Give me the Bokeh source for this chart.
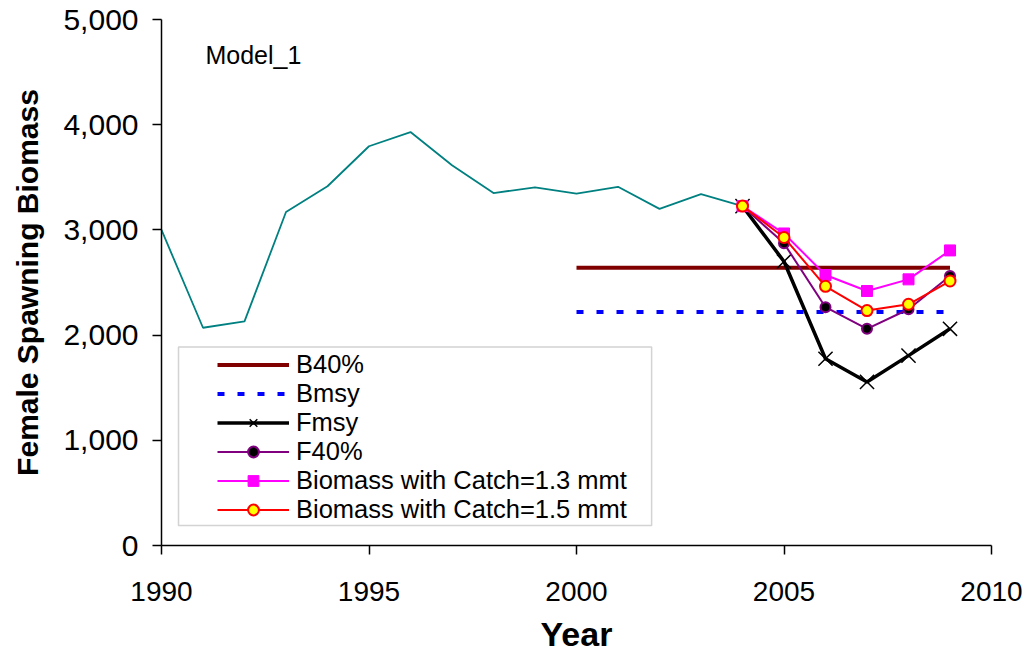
from bokeh.plotting import figure
from bokeh.models import (Range1d, FixedTicker, NumeralTickFormatter, Label,
                          BoxAnnotation)
from bokeh.embed import file_html
from bokeh.resources import INLINE

# ---- data -------------------------------------------------------------
hist_years = [1990, 1991, 1992, 1993, 1994, 1995, 1996, 1997, 1998, 1999,
              2000, 2001, 2002, 2003, 2004]
hist_biomass = [3000, 2070, 2130, 3170, 3415, 3795, 3930, 3615, 3350, 3405,
                3345, 3410, 3200, 3340, 3226]

ref_years = [2000, 2009]
b40 = [2640, 2640]
bmsy = [2220, 2220]

proj_years = [2004, 2005, 2006, 2007, 2008, 2009]
fmsy = [3226, 2700, 1775, 1555, 1805, 2060]
f40 = [3226, 2872, 2265, 2060, 2246, 2562]
catch13 = [3226, 2966, 2571, 2419, 2530, 2805]
catch15 = [3226, 2928, 2464, 2233, 2293, 2514]

x_ticks = [1990, 1995, 2000, 2005, 2010]
y_ticks = [0, 1000, 2000, 3000, 4000, 5000]

FONT = "Liberation Sans"

p = figure(width=1032, height=655, output_backend="svg", toolbar_location=None,
           x_range=Range1d(1990, 2010), y_range=Range1d(0, 5000),
           min_border_left=161, min_border_right=41, min_border_top=19,
           min_border_bottom=109)
p.outline_line_color = None
p.xgrid.visible = False
p.ygrid.visible = False

# historical
p.line(hist_years, hist_biomass, line_color="#008080", line_width=1.8)

# reference lines
p.line(ref_years, b40, line_color="#800000", line_width=4, legend_label="B40%")
p.line(ref_years, bmsy, line_color="#0000FF", line_width=4, line_dash="7 13",
       legend_label="Bmsy")

# projections
p.line(proj_years, fmsy, line_color="black", line_width=3.5, legend_label="Fmsy")
p.scatter(proj_years, fmsy, marker="x", size=20, line_color="black",
          line_width=1.5, legend_label="Fmsy")

p.line(proj_years, f40, line_color="#800080", line_width=2, legend_label="F40%")
p.scatter(proj_years, f40, marker="circle", size=10, fill_color="black",
          line_color="#800080", line_width=2, legend_label="F40%")

p.line(proj_years, catch13, line_color="#FF00FF", line_width=2,
       legend_label="Biomass with Catch=1.3 mmt")
p.scatter(proj_years, catch13, marker="square", size=11, fill_color="#FF00FF",
          line_color="#FF00FF", legend_label="Biomass with Catch=1.3 mmt")

p.line(proj_years, catch15, line_color="#FF0000", line_width=2,
       legend_label="Biomass with Catch=1.5 mmt")
p.scatter(proj_years, catch15, marker="circle", size=11, fill_color="#FFFF00",
          line_color="#FF0000", line_width=2,
          legend_label="Biomass with Catch=1.5 mmt")

# axes
for ax in (p.xaxis[0], p.yaxis[0]):
    ax.axis_line_color = "black"
    ax.axis_line_width = 1.5
    ax.major_tick_line_color = "black"
    ax.major_tick_line_width = 1.5
    ax.major_tick_in = 0
    ax.major_tick_out = 9
    ax.minor_tick_line_color = None
    ax.major_label_text_font = FONT
    ax.major_label_text_color = "black"
    ax.axis_label_text_font = FONT
    ax.axis_label_text_font_style = "bold"
    ax.axis_label_text_color = "black"

p.xaxis.ticker = FixedTicker(ticks=x_ticks)
p.yaxis.ticker = FixedTicker(ticks=y_ticks)
p.yaxis.formatter = NumeralTickFormatter(format="0,0")
p.xaxis.major_label_text_font_size = "28px"
p.yaxis.major_label_text_font_size = "30px"
p.xaxis.major_label_standoff = 27
p.yaxis.major_label_standoff = 14
p.xaxis.axis_label = "Year"
p.yaxis.axis_label = "Female Spawning Biomass"
p.xaxis.axis_label_text_font_size = "34px"
p.yaxis.axis_label_text_font_size = "30px"
p.xaxis.axis_label_standoff = 11
p.yaxis.axis_label_standoff = 16

# title label inside the plot
p.add_layout(Label(x=1991.06, y=4660, text="Model_1", text_font=FONT,
                   text_font_size="25px", text_color="black",
                   text_baseline="alphabetic"))

# legend frame
p.add_layout(BoxAnnotation(left=1990.41, right=2001.81, bottom=190, top=1888,
                           fill_color=None, fill_alpha=0,
                           line_color="#6e6e6e", line_width=1.5,
                           level="underlay"))

lg = p.legend[0]
lg.location = (56, 21)
lg.padding = 0
lg.spacing = 0
lg.margin = 0
lg.border_line_alpha = 0
lg.background_fill_alpha = 0
lg.glyph_width = 72
lg.glyph_height = 27
lg.label_height = 27
lg.label_standoff = 7
lg.label_text_font = FONT
lg.label_text_font_size = "25.5px"
lg.label_text_color = "black"

open("out.html", "w").write(file_html(p, INLINE))
